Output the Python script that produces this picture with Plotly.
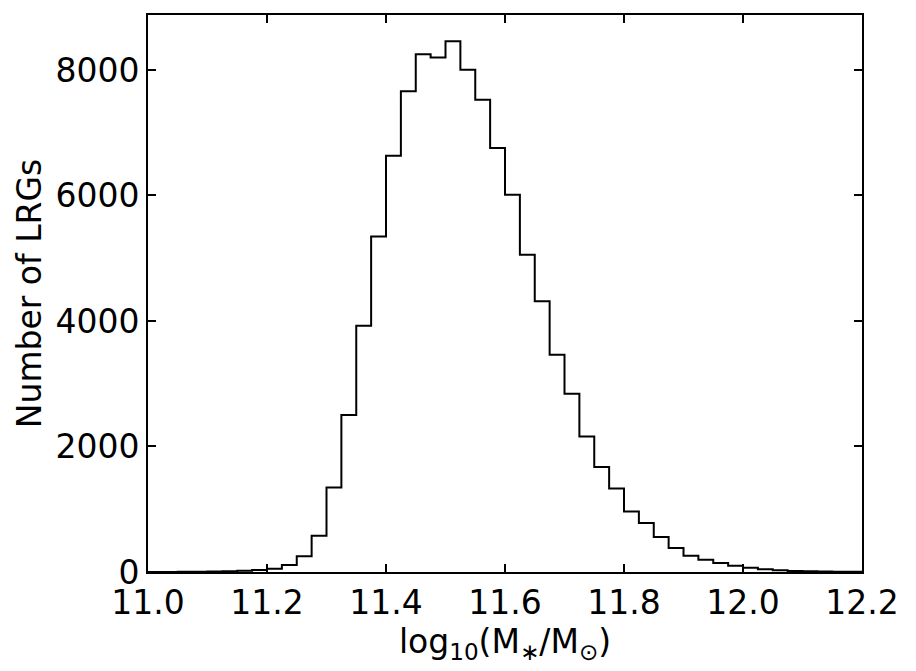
import numpy as np
import plotly.graph_objects as go

# Histogram of stellar masses: 48 bins of width 0.025 from 11.0 to 12.2
bin_start = 11.0
bin_width = 0.025
counts = [0, 1, 3, 5, 8, 12, 20, 30, 50, 112, 249, 578,
          1348, 2500, 3925, 5348, 6633, 7659, 8249, 8200,
          8456, 8005, 7526, 6757, 6013, 5057, 4313, 3463,
          2841, 2161, 1673, 1332, 966, 780, 558, 382,
          260, 196, 143, 100, 68, 42, 26, 16, 10, 6, 3, 2]
edges = np.round(bin_start + bin_width * np.arange(len(counts) + 1), 4)

x_ticks = [11.0, 11.2, 11.4, 11.6, 11.8, 12.0, 12.2]
y_ticks = [0, 2000, 4000, 6000, 8000]

step_y = list(counts) + [counts[-1]]

fig = go.Figure()
fig.add_trace(go.Scatter(
    x=list(edges), y=step_y, mode="lines",
    line=dict(shape="hv", color="black", width=2),
    hoverinfo="skip", showlegend=False,
))

font = "DejaVu Sans"
fig.update_layout(
    width=916, height=671,
    margin=dict(l=148, r=54, t=15, b=99),
    paper_bgcolor="white", plot_bgcolor="white",
    font=dict(family=font, color="black", size=33),
    showlegend=False,
)
fig.update_xaxes(
    range=[11.0, 12.2], tickvals=x_ticks,
    ticktext=[f"{v:.1f}" for v in x_ticks],
    ticks="inside", ticklen=8, tickwidth=1.5, tickcolor="black",
    showline=True, linecolor="black", linewidth=2, mirror="ticks",
    showgrid=False, zeroline=False,
    tickfont=dict(size=33, family=font),
    title=dict(text="log<sub>10</sub>(M<sub>∗</sub>/M<sub>⊙</sub>)",
               font=dict(size=33, family=font), standoff=2),
)
fig.update_yaxes(
    range=[0, 8876], tickvals=y_ticks,
    ticks="inside", ticklen=8, tickwidth=1.5, tickcolor="black",
    showline=True, linecolor="black", linewidth=2, mirror="ticks",
    showgrid=False, zeroline=False,
    tickfont=dict(size=33, family=font),
    title=dict(text="Number of LRGs", font=dict(size=33, family=font), standoff=4),
)

fig.write_html("out.html")
